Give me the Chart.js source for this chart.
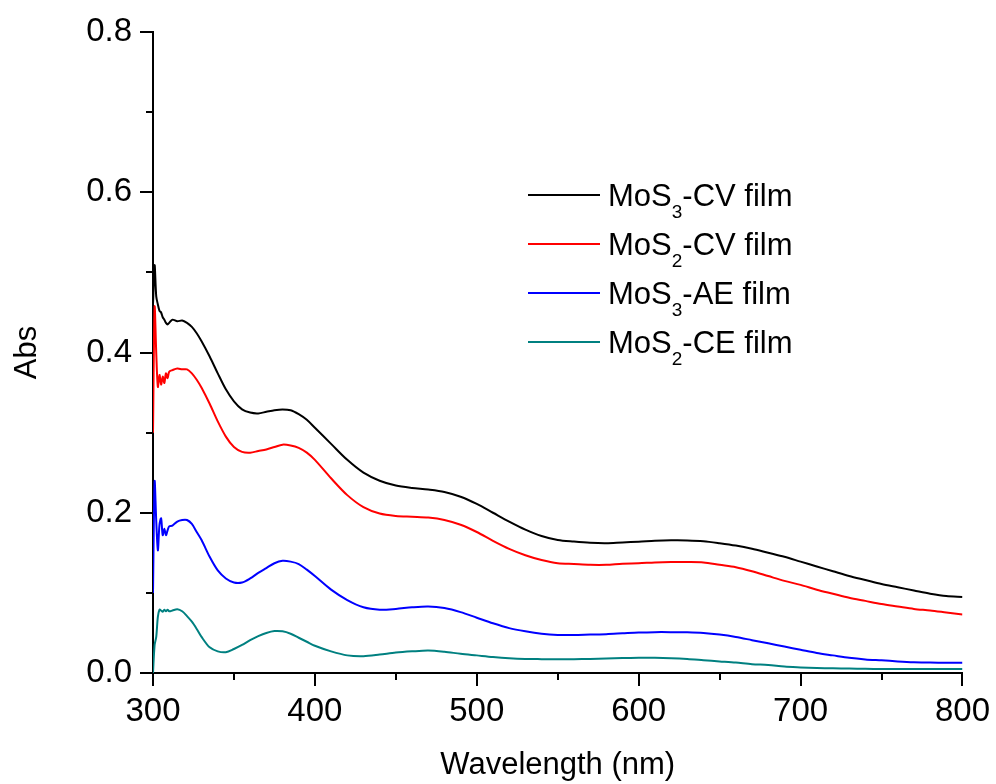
<!DOCTYPE html>
<html>
<head>
<meta charset="utf-8">
<title>Abs spectra</title>
<script src="https://cdn.jsdelivr.net/npm/chart.js"></script>
<style>
  html, body { margin: 0; padding: 0; background: #fff; }
  canvas { display: block; }
</style>
</head>
<body>
<canvas id="chart" width="996" height="784"></canvas>
<script>
// wavelength grid (nm)
const wavelengths = [300, 301, 302, 303, 304, 305, 306, 307, 308, 309, 310, 312, 315, 318, 321, 324, 327, 330,
  335, 340, 345, 350, 355, 360, 365, 370, 375, 380, 385, 390, 395, 400,
  410, 420, 430, 440, 450, 460, 470, 480, 490, 500, 510, 520, 530, 540, 550, 560, 570, 580, 590, 600,
  610, 620, 630, 640, 650, 660, 670, 680, 690, 700, 710, 720, 730, 740, 750, 760, 770, 780, 790, 800];

const mos3CV = [0.46, 0.509, 0.47, 0.46, 0.452, 0.45, 0.444, 0.441, 0.437, 0.435, 0.437, 0.441, 0.439, 0.440, 0.437, 0.432, 0.424, 0.414,
  0.395, 0.374, 0.354, 0.339, 0.329, 0.325, 0.324, 0.326, 0.328, 0.329, 0.328, 0.323, 0.316, 0.306,
  0.286, 0.266, 0.250, 0.240, 0.234, 0.231, 0.229, 0.226, 0.220, 0.211, 0.200, 0.189, 0.179, 0.171, 0.166, 0.164, 0.1625, 0.162, 0.163, 0.1638,
  0.165, 0.1656, 0.1655, 0.1645, 0.162, 0.159, 0.155, 0.150, 0.145, 0.139, 0.133, 0.127, 0.121, 0.116, 0.111, 0.107, 0.103, 0.099, 0.096, 0.095];

const mos2CV = [0.30, 0.457, 0.40, 0.357, 0.372, 0.360, 0.370, 0.362, 0.374, 0.368, 0.376, 0.378, 0.380, 0.379, 0.379, 0.374, 0.366, 0.356,
  0.336, 0.314, 0.295, 0.282, 0.276, 0.275, 0.277, 0.279, 0.282, 0.285, 0.284, 0.281, 0.275, 0.266,
  0.243, 0.222, 0.207, 0.199, 0.196, 0.195, 0.194, 0.191, 0.185, 0.176, 0.165, 0.155, 0.147, 0.141, 0.137, 0.136, 0.135, 0.135, 0.1365, 0.137,
  0.138, 0.1385, 0.1385, 0.138, 0.135, 0.132, 0.127, 0.121, 0.115, 0.110, 0.104, 0.099, 0.094, 0.090, 0.086, 0.083, 0.080, 0.078, 0.0755, 0.073];

const mos3AE = [0.10, 0.239, 0.19, 0.153, 0.185, 0.193, 0.172, 0.180, 0.172, 0.178, 0.183, 0.184, 0.189, 0.191, 0.191, 0.186, 0.176, 0.166,
  0.145, 0.128, 0.118, 0.113, 0.113, 0.118, 0.125, 0.131, 0.137, 0.140, 0.139, 0.136, 0.129, 0.121,
  0.104, 0.091, 0.082, 0.079, 0.080, 0.082, 0.083, 0.081, 0.076, 0.069, 0.062, 0.056, 0.052, 0.049, 0.0475, 0.0474, 0.048, 0.0485, 0.0495, 0.0505,
  0.051, 0.051, 0.0508, 0.050, 0.048, 0.045, 0.041, 0.037, 0.033, 0.029, 0.025, 0.022, 0.019, 0.017, 0.0158, 0.0145, 0.0135, 0.013, 0.0129, 0.0129];

const mos2CE = [0.0, 0.035, 0.045, 0.070, 0.079, 0.078, 0.0765, 0.079, 0.077, 0.079, 0.077, 0.078, 0.0795, 0.077, 0.071, 0.064, 0.055, 0.045,
  0.032, 0.027, 0.026, 0.030, 0.035, 0.041, 0.046, 0.050, 0.0524, 0.052, 0.049, 0.044, 0.039, 0.034,
  0.027, 0.022, 0.021, 0.023, 0.0255, 0.027, 0.028, 0.0265, 0.024, 0.022, 0.020, 0.0185, 0.0176, 0.0173, 0.0171, 0.0172, 0.0176, 0.018, 0.0186, 0.019,
  0.019, 0.0185, 0.0175, 0.016, 0.0145, 0.013, 0.011, 0.010, 0.008, 0.007, 0.0062, 0.0058, 0.0055, 0.0052, 0.005, 0.005, 0.005, 0.005, 0.005, 0.005];

// legend labels: [text, subscript, text]
const seriesLabels = [['MoS', '3', '-CV film'], ['MoS', '2', '-CV film'], ['MoS', '3', '-AE film'], ['MoS', '2', '-CE film']];
const seriesColors = ['#000000', '#ff0000', '#0000ff', '#008080'];
const seriesValues = [mos3CV, mos2CV, mos3AE, mos2CE];

const xMinorTicks = [350, 450, 550, 650, 750];
const yMinorTicks = [0.1, 0.3, 0.5, 0.7];

const FONT = "'Liberation Sans', Arial, sans-serif";

const minorTicks = {
  id: 'minorTicks',
  afterDraw(chart) {
    const ctx = chart.ctx;
    const xs = chart.scales.x, ys = chart.scales.y;
    const area = chart.chartArea;
    ctx.save();
    ctx.strokeStyle = '#000';
    ctx.lineWidth = 2;
    ctx.beginPath();
    xMinorTicks.forEach(v => {
      const px = Math.round(xs.getPixelForValue(v));
      ctx.moveTo(px, area.bottom);
      ctx.lineTo(px, area.bottom + 7);
    });
    yMinorTicks.forEach(v => {
      const py = Math.round(ys.getPixelForValue(v));
      ctx.moveTo(area.left, py);
      ctx.lineTo(area.left - 7, py);
    });
    ctx.stroke();
    ctx.restore();
  }
};

const subLegend = {
  id: 'subLegend',
  afterDraw(chart) {
    const ctx = chart.ctx;
    ctx.save();
    chart.data.datasets.forEach((ds, i) => {
      const y = 195 + i * 49;
      ctx.strokeStyle = ds.borderColor;
      ctx.lineWidth = 2;
      ctx.beginPath();
      ctx.moveTo(528, y);
      ctx.lineTo(600, y);
      ctx.stroke();
      const [a, sub, b] = seriesLabels[i];
      ctx.fillStyle = '#000';
      ctx.textBaseline = 'alphabetic';
      ctx.font = '31px ' + FONT;
      let x = 608;
      ctx.fillText(a, x, y + 11);
      x += ctx.measureText(a).width;
      ctx.font = '19px ' + FONT;
      ctx.fillText(sub, x, y + 23);
      x += ctx.measureText(sub).width;
      ctx.font = '31px ' + FONT;
      ctx.fillText(b, x, y + 11);
    });
    ctx.restore();
  }
};

const datasets = seriesValues.map((vals, i) => ({
  label: seriesLabels[i].join(''),
  data: wavelengths.map((w, j) => ({ x: w, y: vals[j] })),
  borderColor: seriesColors[i],
  borderWidth: 2,
  pointRadius: 0,
  fill: false,
  tension: 0.3
}));

new Chart(document.getElementById('chart').getContext('2d'), {
  type: 'line',
  data: { datasets },
  plugins: [minorTicks, subLegend],
  options: {
    responsive: false,
    devicePixelRatio: 1,
    animation: false,
    layout: { padding: { top: 32, right: 31, left: 0, bottom: 0 } },
    plugins: { legend: { display: false }, tooltip: { enabled: false } },
    scales: {
      x: {
        type: 'linear',
        min: 300, max: 800,
        afterFit(scale) { scale.height = 111; },
        ticks: { stepSize: 100, color: '#000', padding: 6, maxRotation: 0, font: { family: FONT, size: 33 } },
        grid: { display: true, drawOnChartArea: false, drawTicks: true, tickLength: 13, lineWidth: 2, color: '#000' },
        border: { display: true, width: 2, color: '#000' },
        title: { display: true, text: 'Wavelength (nm)', color: '#000', font: { family: FONT, size: 31 }, padding: { top: 0, bottom: 0 } }
      },
      y: {
        min: 0, max: 0.8,
        afterFit(scale) { scale.width = 153; },
        ticks: { stepSize: 0.2, color: '#000', padding: 8, font: { family: FONT, size: 33 }, callback: v => v.toFixed(1) },
        grid: { display: true, drawOnChartArea: false, drawTicks: true, tickLength: 13, lineWidth: 2, color: '#000' },
        border: { display: true, width: 2, color: '#000' },
        title: { display: true, text: 'Abs', color: '#000', font: { family: FONT, size: 31 }, padding: { top: 9, bottom: 0 } }
      }
    }
  }
});
</script>
</body>
</html>
